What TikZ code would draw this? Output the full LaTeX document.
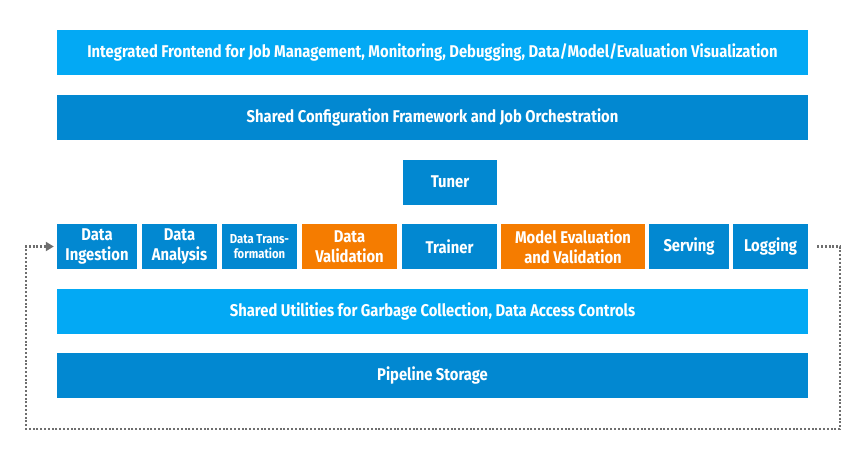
\documentclass[tikz,border=0pt]{standalone}
\usepackage{fontspec}
\setmainfont[FakeStretch=0.87]{Fira Sans}
\usepackage{tikz}
\usetikzlibrary{arrows.meta}

\definecolor{lightblue}{HTML}{03A9F4}
\definecolor{darkblue}{HTML}{0288D1}
\definecolor{tfxorange}{HTML}{F57C00}
\definecolor{loopgray}{HTML}{6E6E6E}

\begin{document}
\begin{tikzpicture}[x=1pt,y=-1pt]
	\tikzstyle{every node}+=[inner sep=0pt]
	\tikzstyle{layer}=[minimum height=45pt, text=white, font=\bfseries\fontsize{17}{19.5}\selectfont, align=center]
	\tikzstyle{comp}=[layer, fill=darkblue]
	\tikzstyle{check}=[layer, fill=tfxorange]
	\tikzstyle{loopline}=[loopgray, line width=2.2pt, dash pattern=on 2pt off 1.8pt]
	\useasboundingbox (0,0) rectangle (866,456);
	% stacked layers
	\node [layer, fill=lightblue, minimum width=751pt] (front) at (432.5,52.5) {Integrated Frontend for Job Management, Monitoring, Debugging, Data/Model/Evaluation Visualization};
	\node [layer, fill=darkblue, minimum width=751pt] (config) at (432.5,117) {Shared Configuration Framework and Job Orchestration};
	\node [comp, minimum width=94pt] (tuner) at (450,182) {Tuner};
	% pipeline components
	\node [comp, minimum width=80pt] (ing) at (97,246.5) {Data\\Ingestion};
	\node [comp, minimum width=75pt] (ana) at (179.5,246.5) {Data\\Analysis};
	\node [comp, minimum width=75pt, font=\bfseries\fontsize{13}{15.5}\selectfont] (trf) at (259.5,246.5) {Data Trans-\\formation};
	\node [check, minimum width=95pt] (val) at (349.5,246.5) {Data\\Validation};
	\node [comp, minimum width=95pt] (trn) at (449.5,246.5) {Trainer};
	\node [check, minimum width=144pt] (eval) at (573,246.5) {Model Evaluation\\and Validation};
	\node [comp, minimum width=80pt] (srv) at (689,246.5) {Serving};
	\node [comp, minimum width=75pt] (log) at (770.5,246.5) {Logging};
	% shared layers below
	\node [layer, fill=lightblue, minimum width=751pt] (util) at (432.5,311) {Shared Utilities for Garbage Collection, Data Access Controls};
	\node [layer, fill=darkblue, minimum width=751pt] (store) at (432.5,375) {Pipeline Storage};
	% feedback loop
	\coordinate (loopR) at (840,429);
	\coordinate (loopL) at (26,429);
	\draw [loopline, -{Triangle[length=8pt,width=9pt]}, shorten >=3pt] ([xshift=9pt]log.east) -| (loopR) -- (loopL) |- (ing.west);
\end{tikzpicture}
\end{document}
